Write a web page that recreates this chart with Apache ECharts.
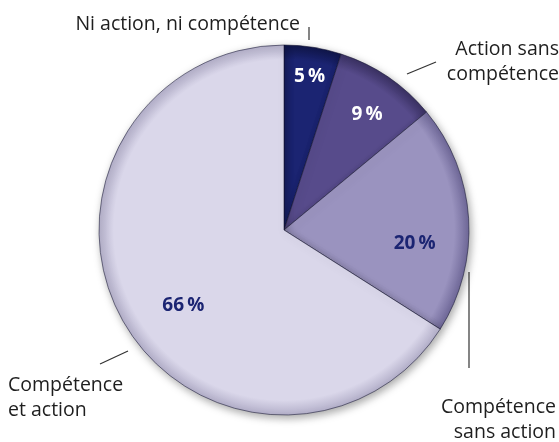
<!DOCTYPE html>
<html>
<head>
<meta charset="utf-8">
<script src="https://cdn.jsdelivr.net/npm/echarts@6/dist/echarts.min.js"></script>
<style>
  html, body { margin: 0; padding: 0; background: #ffffff; }
  #chart { width: 559px; height: 442px; }
</style>
</head>
<body>
<div id="chart"></div>
<script>
// data
const categories = ['Ni action, ni compétence', 'Action sans compétence', 'Compétence sans action', 'Compétence et action']
const values = [5, 9, 20, 66]
const outerLabels = ['Ni action, ni compétence', 'Action sans\ncompétence', 'Compétence\nsans action', 'Compétence\net action']

// styling
const colors = ['#1b2472', '#574b8b', '#9a93bf', '#dad7ea']
const rims = ['#10164a', '#3a3163', '#6f6898', '#b3afc9']
const pctColors = ['#ffffff', '#ffffff', '#1b2472', '#1b2472']
const cx = 284, cy = 230, R = 185
// inside label placement: radius fraction and angle nudge (deg)
const pctR = [0.84, 0.77, 0.71, 0.68]
const pctNudge = [0.5, 1.5, 9.5, -8]
// outer label placement
const outerPos = [
  { x: 300, y: 24, align: 'right', line: [[309, 40], [309, 27]] },
  { x: 559, y: 62, align: 'right', line: [[407, 74], [436, 62]] },
  { x: 556, y: 420, align: 'right', line: [[469, 272], [469, 368]] },
  { x: 8, y: 398, align: 'left', line: [[100, 364], [128, 351]] }
]

const total = values.reduce((a, b) => a + b, 0)
const midAngles = []
let acc = 0
values.forEach(v => {
  midAngles.push((acc + v / 2) / total * 360)
  acc += v
})

const chart = echarts.init(document.getElementById('chart'))
chart.setOption({
  animation: false,
  series: [{
    type: 'pie',
    center: [cx, cy],
    radius: R,
    startAngle: 90,
    clockwise: true,
    itemStyle: {
      borderColor: 'rgba(20,20,50,0.55)',
      borderWidth: 1,
      shadowBlur: 8,
      shadowOffsetX: 2,
      shadowOffsetY: 3,
      shadowColor: 'rgba(0,0,0,0.35)'
    },
    label: {
      show: true,
      position: 'inside',
      fontFamily: 'Open Sans',
      fontWeight: 'bold',
      fontSize: 19,
      formatter: p => p.value + '\u2009%',
      color: '#fff'
    },
    labelLine: { show: false },
    labelLayout: p => {
      const i = p.dataIndex
      const a = (midAngles[i] + pctNudge[i]) * Math.PI / 180
      const r = R * pctR[i]
      return {
        x: cx + r * Math.sin(a),
        y: cy - r * Math.cos(a),
        align: 'center',
        verticalAlign: 'middle'
      }
    },
    data: values.map((v, i) => ({
      name: categories[i],
      value: v,
      itemStyle: {
        color: {
          type: 'radial', x: cx, y: cy, r: R, global: true,
          colorStops: [
            { offset: 0, color: colors[i] },
            { offset: 0.92, color: colors[i] },
            { offset: 1, color: rims[i] }
          ]
        }
      },
      label: { color: pctColors[i] }
    }))
  }, {
    type: 'pie',
    center: [cx, cy],
    radius: R,
    startAngle: 90,
    clockwise: true,
    silent: true,
    itemStyle: { color: 'transparent' },
    label: {
      show: true,
      position: 'outside',
      width: 280,
      overflow: 'none',
      fontFamily: 'Open Sans',
      fontSize: 19.5,
      lineHeight: 25,
      color: '#1e1e1e',
      formatter: p => outerLabels[p.dataIndex]
    },
    labelLine: {
      show: true,
      lineStyle: { color: '#333333', width: 1.2 }
    },
    labelLayout: p => {
      const o = outerPos[p.dataIndex]
      return {
        x: o.x,
        y: o.y,
        align: o.align,
        verticalAlign: 'middle',
        labelLinePoints: o.line
      }
    },
    data: values.map((v, i) => ({ name: categories[i], value: v }))
  }]
})
</script>
</body>
</html>
